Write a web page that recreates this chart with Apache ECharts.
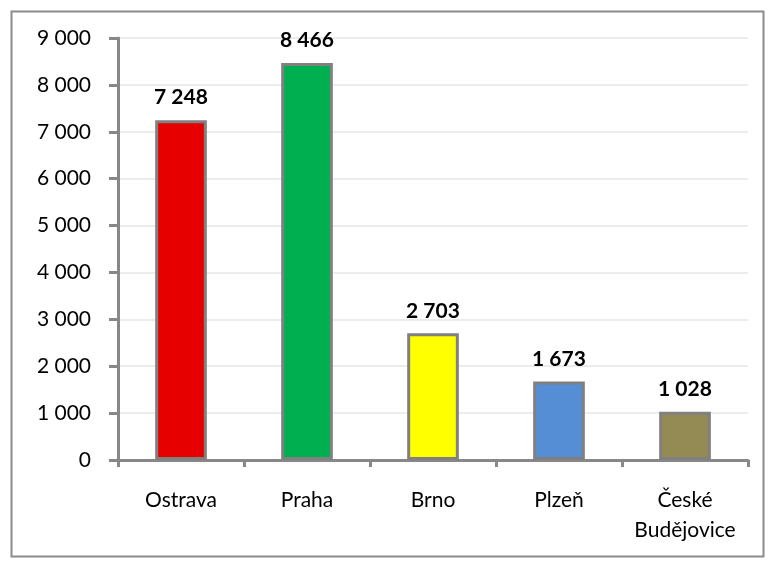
<!DOCTYPE html>
<html><head><meta charset="utf-8">
<script src="https://cdn.jsdelivr.net/npm/echarts@6/dist/echarts.min.js"></script>
<style>html,body{margin:0;padding:0;background:#fff}#c{width:769px;height:566px}</style>
</head><body><div id="c"></div>
<script>
const categories = ['Ostrava', 'Praha', 'Brno', 'Plzeň', 'České\nBudějovice'];
const values = [7248, 8466, 2703, 1673, 1028];
const barColors = ['#e60000', '#00b050', '#ffff00', '#558ed5', '#948a54'];
const yTicks = [0, 1000, 2000, 3000, 4000, 5000, 6000, 7000, 8000, 9000];

function fmt(v) { return String(v).replace(/\B(?=(\d{3})+(?!\d))/g, ' '); }
const FF = 'Lato, "Open Sans", sans-serif';

const chart = echarts.init(document.getElementById('c'));
chart.setOption({
  animation: false,
  textStyle: { fontFamily: FF },
  graphic: [{ type: 'rect', shape: { x: 11.5, y: 11.5, width: 752, height: 545 }, style: { fill: 'none', stroke: '#8c8c8c', lineWidth: 2 } }],
  grid: { left: 118, right: 21, top: 38, bottom: 106 },
  xAxis: {
    type: 'category', data: categories,
    axisLine: { lineStyle: { color: '#888', width: 3 } },
    axisTick: { show: true, interval: 0, length: 7, lineStyle: { color: '#888', width: 3 } },
    axisLabel: { interval: 0, color: '#000', fontSize: 21, margin: 25, lineHeight: 30, fontFamily: FF }
  },
  yAxis: {
    type: 'value', min: yTicks[0], max: yTicks[yTicks.length - 1], interval: 1000,
    axisLine: { show: true, lineStyle: { color: '#888', width: 3 } },
    axisTick: { show: true, length: 9, lineStyle: { color: '#888', width: 3 } },
    splitLine: { lineStyle: { color: '#ececec', width: 2 } },
    axisLabel: { color: '#000', fontSize: 21, margin: 27, formatter: fmt, fontFamily: FF }
  },
  series: [{
    type: 'bar', barWidth: '41%',
    data: values.map((v, i) => ({ value: v, itemStyle: { color: barColors[i] } })),
    itemStyle: { borderColor: '#808080', borderWidth: 3 },
    label: { show: true, position: 'top', distance: 12, formatter: p => fmt(p.value), color: '#000', fontWeight: 'bold', fontSize: 21, fontFamily: FF }
  }]
});
</script></body></html>
